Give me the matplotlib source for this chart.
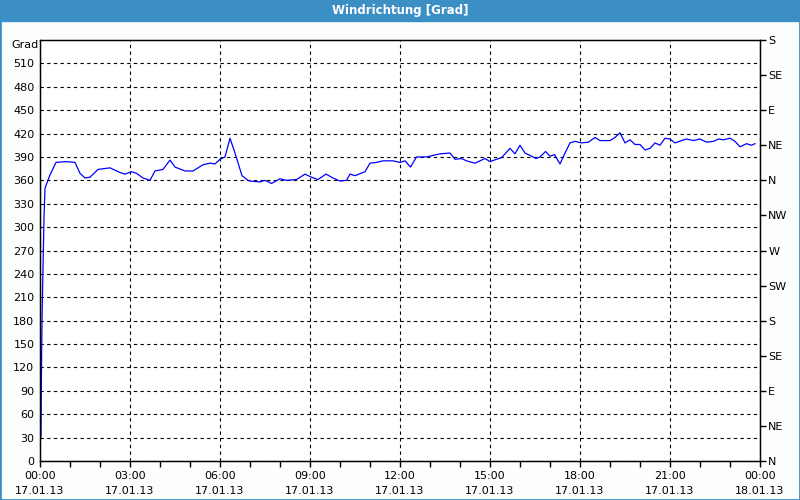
import matplotlib
matplotlib.use('Agg')
import matplotlib.pyplot as plt
from matplotlib.patches import Rectangle
import numpy as np

# minutes since 17.01.13 00:00 and wind direction in degrees
minutes = [2, 3, 4, 6, 8, 10, 20, 32, 53, 70, 80, 90, 100, 116, 140, 160, 170,
           183, 193, 206, 220, 230, 246, 260, 270, 290, 306, 326, 340, 350, 360,
           370, 380, 390, 404, 416, 420, 440, 450, 463, 480, 493, 513, 530, 543,
           556, 572, 586, 600, 613, 620, 630, 650, 660, 673, 686, 706, 720, 730,
           741, 753, 773, 800, 820, 830, 843, 853, 870, 890, 900, 913, 923, 940,
           950, 960, 970, 980, 992, 1000, 1011, 1020, 1029, 1040, 1050, 1060,
           1070, 1083, 1097, 1110, 1120, 1140, 1150, 1160, 1170, 1180, 1190,
           1200, 1210, 1220, 1230, 1240, 1250, 1260, 1270, 1283, 1293, 1307,
           1320, 1333, 1347, 1357, 1367, 1380, 1390, 1400, 1413, 1423, 1430]
degrees = [31, 120, 181, 247, 313, 350, 367, 383, 384, 383, 369, 363, 364, 374,
           376, 370, 368, 371, 369, 363, 360, 372, 374, 386, 377, 372, 372, 380,
           382, 381, 387, 390, 414, 395, 366, 360, 359, 358, 360, 356, 362, 360,
           361, 368, 364, 361, 368, 363, 359, 360, 368, 366, 371, 382, 383, 385,
           385, 383, 385, 377, 390, 390, 394, 395, 387, 388, 385, 382, 388, 384,
           387, 389, 401, 394, 405, 395, 392, 388, 390, 397, 391, 393, 381, 395,
           408, 410, 408, 409, 415, 411, 411, 415, 421, 408, 412, 406, 406, 399,
           401, 408, 405, 414, 413, 408, 411, 413, 411, 413, 409, 410, 413, 412,
           414, 410, 403, 407, 405, 407]

x_ticks = [0, 3, 6, 9, 12, 15, 18, 21, 24]
x_labels = ['00:00\n17.01.13', '03:00\n17.01.13', '06:00\n17.01.13',
            '09:00\n17.01.13', '12:00\n17.01.13', '15:00\n17.01.13',
            '18:00\n17.01.13', '21:00\n17.01.13', '00:00\n18.01.13']
compass = ['N', 'NE', 'E', 'SE', 'S', 'SW', 'W', 'NW',
           'N', 'NE', 'E', 'SE', 'S']

frame_blue = '#3c8fc5'

plt.rcParams['font.family'] = 'DejaVu Sans'
plt.rcParams['font.size'] = 8

fig = plt.figure(figsize=(8, 5), dpi=100)
fig.patch.set_facecolor('#fcfefd')

# title bar and frame
fig.patches.append(Rectangle((0, 1 - 21 / 500), 1, 21 / 500,
                             transform=fig.transFigure, color=frame_blue, zorder=0))
fig.patches.append(Rectangle((0, 0), 1, 1, transform=fig.transFigure,
                             fill=False, edgecolor=frame_blue, linewidth=2, zorder=0))
fig.text(0.5, 1 - 10.5 / 500, 'Windrichtung [Grad]', color='white',
         fontweight='bold', ha='center', va='center', fontsize=8.5)

ax = fig.add_axes([40 / 800, 39 / 500, 720 / 800, 421 / 500])
ax.set_facecolor('white')

hours = np.array(minutes) / 60.0
ax.plot(hours, degrees, color='#0000ff', linewidth=0.9)

ax.set_xlim(0, 24)
ax.set_ylim(0, 540)
ax.set_xticks(x_ticks)
ax.set_xticklabels(x_labels, linespacing=1.6)
ax.set_xticks(range(0, 25), minor=True)
ax.set_yticks(range(0, 511, 30))
ax.tick_params(axis='x', which='both', direction='out', length=4, width=1, pad=3)
ax.tick_params(axis='y', length=0, pad=4)

ax.grid(True, color='black', linestyle=(0, (3, 3)), linewidth=0.8)
for spine in ax.spines.values():
    spine.set_linewidth(1)

ax2 = ax.twinx()
ax2.set_ylim(0, 540)
ax2.set_yticks(range(0, 541, 45))
ax2.set_yticklabels(compass)
ax2.tick_params(axis='y', direction='out', length=4, width=1, pad=2)

fig.text(25 / 800, 1 - 45 / 500, 'Grad', ha='center', va='center', fontsize=8)

fig.savefig('out.png', dpi=100, facecolor=fig.get_facecolor())
